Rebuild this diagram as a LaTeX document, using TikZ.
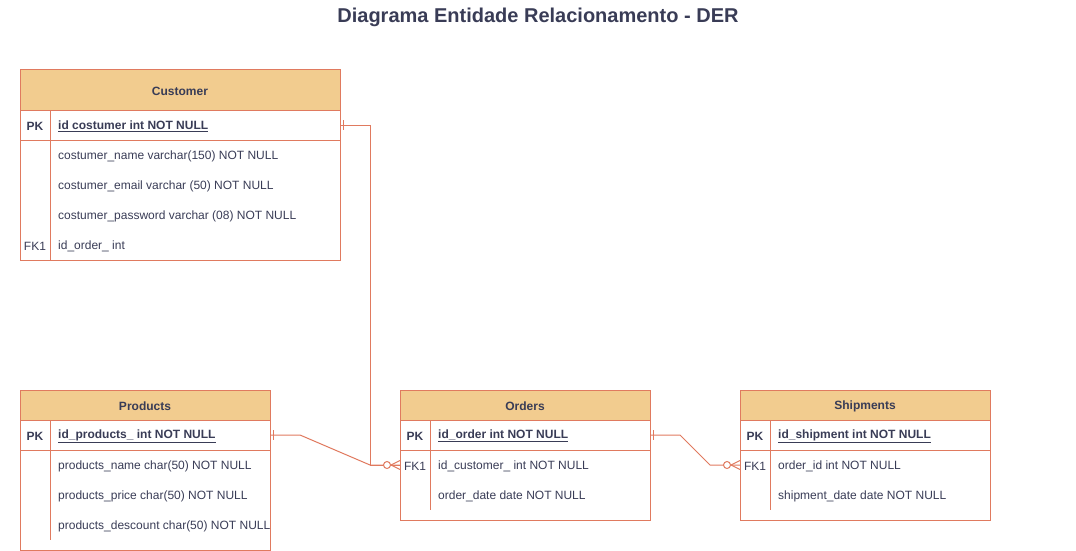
\documentclass[tikz,border=0pt]{standalone}
\usepackage{fontspec}
\setmainfont{Liberation Sans}
\usetikzlibrary{calc}
\definecolor{hdrfill}{HTML}{F2CC8F}
\definecolor{tblstroke}{HTML}{E07A5F}
\definecolor{txtcol}{HTML}{393C56}
\tikzset{
  tbl/.style={draw=tblstroke, line width=1pt},
  hdr/.style={draw=tblstroke, line width=1pt, fill=hdrfill},
  conn/.style={draw=tblstroke, line width=1pt},
  fld/.style={anchor=west, inner sep=0pt, yshift=-1pt, text=txtcol, font=\fontsize{12}{14}\selectfont},
  keytxt/.style={anchor=center, inner sep=0pt, yshift=-1pt, text=txtcol, font=\fontsize{12}{14}\selectfont},
  pkfld/.style={fld, font=\fontsize{12}{14}\selectfont\bfseries},
  pkkey/.style={keytxt, font=\fontsize{12}{14}\selectfont\bfseries},
  hdrtxt/.style={inner sep=0pt, yshift=-1pt, text=txtcol, font=\fontsize{12}{14}\selectfont\bfseries},
  title/.style={inner sep=0pt, yshift=-1pt, text=txtcol, font=\fontsize{20}{24}\selectfont\bfseries}
}
\newcommand{\onemark}[2]{\draw[conn] ([xshift=#2]#1) ++(0,-5) -- ++(0,10);}
\newcommand{\manymark}[1]{%
  \draw[conn] ([xshift=-9pt]#1) -- ([yshift=4.5pt]#1);
  \draw[conn] ([xshift=-9pt]#1) -- ([yshift=-4.5pt]#1);
  \draw[conn, fill=white] ([xshift=-13pt]#1) circle (3.5pt);}
\newcommand{\ul}[1]{\underline{#1}}
\begin{document}
\begin{tikzpicture}[x=1pt,y=-1pt]
\useasboundingbox (0,0) rectangle (1076,551);
\node[title] (title) at (538,16) {Diagrama Entidade Relacionamento - DER};

% Customer
\draw[hdr] (20,70) rectangle (340,110);
\node[hdrtxt] (custh) at (180,90) {Customer};
\draw[tbl] (20,110) rectangle (340,260);
\draw[tbl] (20,140) -- (340,140);
\draw[tbl] (50,110) -- (50,260);
\node[pkkey] (custk1) at (35,125) {PK};
\node[pkfld] (custf1) at (58,125) {\ul{id costumer int NOT NULL}};
\node[fld] (custf2) at (58,155) {costumer\_name varchar(150) NOT NULL};
\node[fld] (custf3) at (58,185) {costumer\_email varchar (50) NOT NULL};
\node[fld] (custf4) at (58,215) {costumer\_password varchar (08) NOT NULL};
\node[keytxt] (custk5) at (35,245) {FK1};
\node[fld] (custf5) at (58,245) {id\_order\_ int};
\coordinate (cpk) at (340,125);

% Products
\draw[hdr] (20,390) rectangle (270,420);
\node[hdrtxt] (prodh) at (145,405) {Products};
\draw[tbl] (20,420) rectangle (270,550);
\draw[tbl] (20,450) -- (270,450);
\draw[tbl] (50,420) -- (50,540);
\node[pkkey] (prodk1) at (35,435) {PK};
\node[pkfld] (prodf1) at (58,435) {\ul{id\_products\_ int NOT NULL}};
\node[fld] (prodf2) at (58,465) {products\_name char(50) NOT NULL};
\node[fld] (prodf3) at (58,495) {products\_price char(50) NOT NULL};
\node[fld] (prodf4) at (58,525) {products\_descount char(50) NOT NULL};
\coordinate (ppk) at (270,435);

% Orders
\draw[hdr] (400,390) rectangle (650,420);
\node[hdrtxt] (ordh) at (525,405) {Orders};
\draw[tbl] (400,420) rectangle (650,520);
\draw[tbl] (400,450) -- (650,450);
\draw[tbl] (430,420) -- (430,510);
\node[pkkey] (ordk1) at (415,435) {PK};
\node[pkfld] (ordf1) at (438,435) {\ul{id\_order int NOT NULL}};
\node[keytxt] (ordk2) at (415,465) {FK1};
\node[fld] (ordf2) at (438,465) {id\_customer\_ int NOT NULL};
\node[fld] (ordf3) at (438,495) {order\_date date NOT NULL};
\coordinate (opk) at (650,435);
\coordinate (ofk) at (400,465);

% Shipments
\draw[hdr] (740,390) rectangle (990,420);
\node[hdrtxt] (shiph) at (865,405) {Shipments};
\draw[tbl] (740,420) rectangle (990,520);
\draw[tbl] (740,450) -- (990,450);
\draw[tbl] (770,420) -- (770,510);
\node[pkkey] (shipk1) at (755,435) {PK};
\node[pkfld] (shipf1) at (778,435) {\ul{id\_shipment int NOT NULL}};
\node[keytxt] (shipk2) at (755,465) {FK1};
\node[fld] (shipf2) at (778,465) {order\_id int NOT NULL};
\node[fld] (shipf3) at (778,495) {shipment\_date date NOT NULL};
\coordinate (sfk) at (740,465);

% Connectors
\draw[conn] (cpk) -- ++(30,0) |- (ofk);
\draw[conn] (ppk) -- ++(30,0) -- ([xshift=-30pt]ofk) -- (ofk);
\draw[conn] (opk) -- ++(30,0) -- ([xshift=-30pt]sfk) -- (sfk);
\onemark{cpk}{3.5pt}
\onemark{ppk}{3.5pt}
\onemark{opk}{3.5pt}
\manymark{ofk}
\manymark{sfk}
\end{tikzpicture}
\end{document}
